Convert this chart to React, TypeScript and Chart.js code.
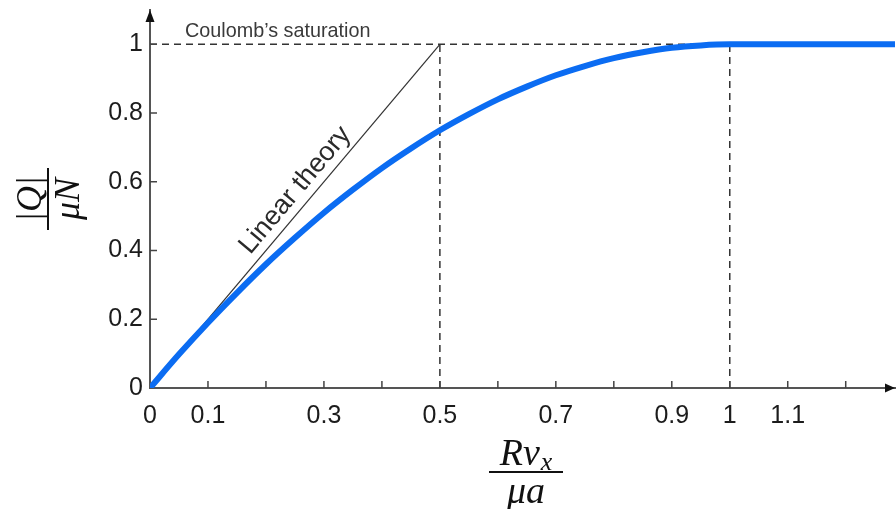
import React, { useEffect, useRef } from "react";
import { Chart, registerables } from "chart.js";

Chart.register(...registerables);

// ---- data ----
const curveX = [0, 0.05, 0.1, 0.15, 0.2, 0.25, 0.3, 0.35, 0.4, 0.45, 0.5, 0.55, 0.6, 0.65, 0.7, 0.75, 0.8, 0.85, 0.9, 0.95, 1.0, 1.1, 1.2, 1.285];
const curveY = [0, 0.098, 0.19, 0.277, 0.36, 0.437, 0.51, 0.577, 0.64, 0.697, 0.75, 0.797, 0.84, 0.877, 0.91, 0.937, 0.96, 0.977, 0.99, 0.997, 1.0, 1.0, 1.0, 1.0];
const linearX = [0, 0.5];
const linearY = [0, 1];
const saturationX = [0, 1];
const saturationY = [1, 1];
const guideHalfX = [0.5, 0.5];
const guideHalfY = [0, 1];
const guideOneX = [1, 1];
const guideOneY = [0, 1];

const xTickValues = [0, 0.1, 0.2, 0.3, 0.4, 0.5, 0.6, 0.7, 0.8, 0.9, 1.0, 1.1, 1.2];
const xTickLabels = ["0", "0.1", "", "0.3", "", "0.5", "", "0.7", "", "0.9", "1", "1.1", ""];
const yTickValues = [0, 0.2, 0.4, 0.6, 0.8, 1];
const yTickLabels = ["0", "0.2", "0.4", "0.6", "0.8", "1"];

const X_MIN = 0;
const X_MAX = 1.285;
const Y_MIN = 0;
const Y_MAX = 1.1;

const saturationText = "Coulomb\u2019s saturation";
const linearText = "Linear theory";

const zip = (xs: number[], ys: number[]) => xs.map((x, i) => ({ x, y: ys[i] }));

const AXIS_COLOR = "#555";
const TEXT_COLOR = "#1c1c1c";
const DASH_COLOR = "#333";

const overlayPlugin = {
  id: "overlay",
  afterDatasetsDraw(chart: any) {
    const { ctx, chartArea, scales } = chart;
    const xs = scales.x;
    const ys = scales.y;
    const x0 = xs.getPixelForValue(0);
    const y0 = ys.getPixelForValue(0);
    ctx.save();

    // inner tick marks
    ctx.strokeStyle = "#444";
    ctx.lineWidth = 1.5;
    ctx.beginPath();
    xTickValues.forEach((v) => {
      if (v === 0) return;
      const px = xs.getPixelForValue(v);
      ctx.moveTo(px, y0);
      ctx.lineTo(px, y0 - 7);
    });
    yTickValues.forEach((v) => {
      if (v === 0) return;
      const py = ys.getPixelForValue(v);
      ctx.moveTo(x0, py);
      ctx.lineTo(x0 + 7, py);
    });
    ctx.stroke();

    // arrows
    ctx.fillStyle = "#111";
    ctx.beginPath();
    ctx.moveTo(chartArea.right, y0);
    ctx.lineTo(chartArea.right - 10, y0 - 4.5);
    ctx.lineTo(chartArea.right - 10, y0 + 4.5);
    ctx.closePath();
    ctx.fill();
    ctx.beginPath();
    ctx.moveTo(x0, chartArea.top);
    ctx.lineTo(x0 - 4.5, chartArea.top + 12);
    ctx.lineTo(x0 + 4.5, chartArea.top + 12);
    ctx.closePath();
    ctx.fill();

    // Coulomb's saturation label
    ctx.fillStyle = "#3a3a3a";
    ctx.font = '19.8px "Liberation Sans", Arial, sans-serif';
    ctx.textAlign = "left";
    ctx.textBaseline = "alphabetic";
    ctx.fillText(saturationText, x0 + 35, ys.getPixelForValue(1) - 7);

    // Linear theory label
    const p0 = { x: xs.getPixelForValue(linearX[0]), y: ys.getPixelForValue(linearY[0]) };
    const p1 = { x: xs.getPixelForValue(linearX[1]), y: ys.getPixelForValue(linearY[1]) };
    const dx = p1.x - p0.x;
    const dy = p1.y - p0.y;
    const len = Math.hypot(dx, dy);
    const u = { x: dx / len, y: dy / len };
    const n = { x: u.y, y: -u.x };
    const mx = (p0.x + p1.x) / 2 + u.x * 20 + n.x * 9;
    const my = (p0.y + p1.y) / 2 + u.y * 20 + n.y * 9;
    ctx.save();
    ctx.translate(mx, my);
    ctx.rotate(Math.atan2(dy, dx));
    ctx.font = '27px "Liberation Sans", Arial, sans-serif';
    ctx.fillStyle = "#2a2a2a";
    ctx.textAlign = "center";
    ctx.textBaseline = "alphabetic";
    ctx.fillText(linearText, 0, 0);
    ctx.restore();

    // axis titles (fractions)
    const mathFont = (s: number) => `italic ${s}px "Liberation Serif", "DejaVu Serif", serif`;
    const drawFraction = (
      num: string,
      sub: string,
      den: string,
      cx: number,
      cy: number,
      barW: number,
      size: number
    ) => {
      ctx.fillStyle = "#111";
      ctx.strokeStyle = "#111";
      ctx.textBaseline = "alphabetic";
      ctx.textAlign = "left";
      ctx.font = mathFont(size);
      const wNum = ctx.measureText(num).width;
      ctx.font = mathFont(size * 0.68);
      const wSub = sub ? ctx.measureText(sub).width + 1 : 0;
      const total = wNum + wSub;
      const sx = cx - total / 2;
      ctx.font = mathFont(size);
      ctx.fillText(num, sx, cy - 7);
      if (sub) {
        ctx.font = mathFont(size * 0.68);
        ctx.fillText(sub, sx + wNum + 1, cy - 2);
      }
      ctx.lineWidth = 2;
      ctx.beginPath();
      ctx.moveTo(cx - barW / 2, cy);
      ctx.lineTo(cx + barW / 2, cy);
      ctx.stroke();
      ctx.font = mathFont(size);
      ctx.textAlign = "center";
      ctx.fillText(den, cx, cy + 31);
    };

    drawFraction("R\u03BD", "x", "\u03BCa", 526, 472, 74, 38);

    ctx.save();
    ctx.translate(48, 199);
    ctx.rotate(-Math.PI / 2);
    drawFraction("|Q|", "", "\u03BCN", 0, 0, 62, 36);
    ctx.restore();

    ctx.restore();
  },
};

export default function App() {
  const canvasRef = useRef<HTMLCanvasElement | null>(null);

  useEffect(() => {
    if (!canvasRef.current) return;
    const dashed = {
      borderColor: DASH_COLOR,
      borderWidth: 1.5,
      borderDash: [7, 5],
      pointRadius: 0,
      fill: false,
    };
    const chart = new Chart(canvasRef.current, {
      type: "line",
      data: {
        datasets: [
          {
            data: zip(curveX, curveY),
            borderColor: "#0b6cf2",
            borderWidth: 6,
            pointRadius: 0,
            cubicInterpolationMode: "monotone",
            fill: false,
          } as any,
          {
            data: zip(linearX, linearY),
            borderColor: "#333",
            borderWidth: 1.2,
            pointRadius: 0,
            fill: false,
          },
          { data: zip(saturationX, saturationY), ...dashed },
          { data: zip(guideHalfX, guideHalfY), ...dashed },
          { data: zip(guideOneX, guideOneY), ...dashed },
        ],
      },
      options: {
        animation: false,
        responsive: true,
        maintainAspectRatio: false,
        layout: { padding: { top: 10, right: 1, left: 0, bottom: 0 } },
        plugins: {
          legend: { display: false },
          tooltip: { enabled: false },
          title: { display: false },
        },
        scales: {
          x: {
            type: "linear",
            min: X_MIN,
            max: X_MAX,
            grid: { display: true, drawOnChartArea: false, drawTicks: false, color: "transparent" },
            border: { display: true, color: AXIS_COLOR, width: 2 },
            afterBuildTicks: (scale: any) => {
              scale.ticks = xTickValues.map((v) => ({ value: v }));
            },
            afterFit: (scale: any) => {
              scale.height = 121;
              scale.paddingLeft = 0;
              scale.paddingRight = 0;
            },
            ticks: {
              autoSkip: false,
              maxRotation: 0,
              padding: 13,
              color: TEXT_COLOR,
              font: { family: '"Liberation Sans", Arial, sans-serif', size: 25 },
              callback: (_v: any, i: number) => xTickLabels[i],
            },
          },
          y: {
            type: "linear",
            min: Y_MIN,
            max: Y_MAX,
            grid: { display: true, drawOnChartArea: false, drawTicks: false, color: "transparent" },
            border: { display: true, color: AXIS_COLOR, width: 2 },
            afterBuildTicks: (scale: any) => {
              scale.ticks = yTickValues.map((v) => ({ value: v }));
            },
            afterFit: (scale: any) => {
              scale.width = 150;
              scale.paddingTop = 0;
              scale.paddingBottom = 0;
            },
            ticks: {
              autoSkip: false,
              padding: 7,
              color: TEXT_COLOR,
              font: { family: '"Liberation Sans", Arial, sans-serif', size: 25 },
              callback: (_v: any, i: number) => yTickLabels[i],
            },
          },
        },
      },
      plugins: [overlayPlugin],
    });
    return () => chart.destroy();
  }, []);

  return (
    <div style={{ position: "absolute", left: 0, top: 0, width: 896, height: 509, background: "#fff" }}>
      <canvas ref={canvasRef} />
    </div>
  );
}
